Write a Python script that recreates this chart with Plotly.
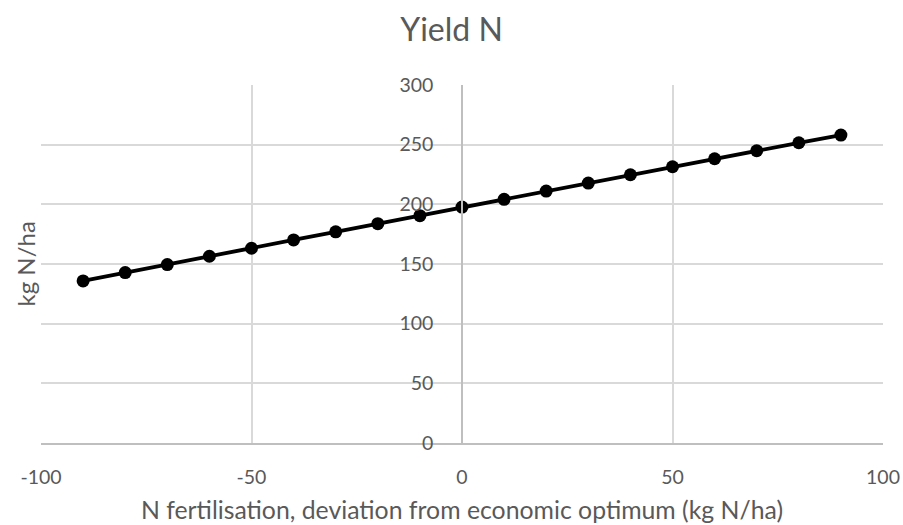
import plotly.graph_objects as go

# N fertilisation deviation from economic optimum (kg N/ha)
n_deviation = [-90, -80, -70, -60, -50, -40, -30, -20, -10, 0,
               10, 20, 30, 40, 50, 60, 70, 80, 90]
# Yield N (kg N/ha)
yield_n = [135.8, 142.8, 149.5, 156.5, 163.2, 170.2, 177.0, 183.8, 190.5, 197.7,
           204.2, 211.1, 217.8, 224.8, 231.5, 238.2, 244.9, 251.6, 258.0]

x_ticks = [-100, -50, 0, 50, 100]
x_tick_text = ["-100", "-50", "0", "50", "100"]
y_ticks = [0, 50, 100, 150, 200, 250, 300]

FONT = "Lato"
TEXT = "#595959"
GRID = "#d9d9d9"
AXIS = "#bfbfbf"

fig = go.Figure(
    go.Scatter(
        x=n_deviation,
        y=yield_n,
        mode="lines+markers",
        line=dict(color="black", width=3.8),
        marker=dict(color="black", size=13),
        showlegend=False,
        cliponaxis=False,
    )
)

fig.update_layout(
    width=903,
    height=525,
    margin=dict(l=41, r=20, t=85, b=82, autoexpand=False),
    paper_bgcolor="white",
    plot_bgcolor="white",
    font=dict(family=FONT, color=TEXT, size=20),
    title=dict(
        text="Yield N",
        x=0.5,
        xanchor="center",
        xref="container",
        y=1 - 30 / 525,
        yref="container",
        yanchor="middle",
        font=dict(family=FONT, size=32, color=TEXT),
    ),
)

fig.update_xaxes(
    range=[-100, 100],
    tickvals=x_ticks,
    ticktext=x_tick_text,
    showgrid=True,
    gridcolor=GRID,
    gridwidth=1.5,
    zeroline=False,
    showline=True,
    linecolor=AXIS,
    linewidth=1.5,
    ticks="",
    automargin=False,
    ticklabelstandoff=16,
    tickfont=dict(size=19.5, color=TEXT),
    title=dict(
        text="N fertilisation, deviation from economic optimum (kg N/ha)",
        font=dict(size=24.8, color=TEXT),
        standoff=14,
    ),
)

fig.update_yaxes(
    range=[0, 300],
    tickvals=y_ticks,
    showgrid=True,
    gridcolor=GRID,
    gridwidth=1.5,
    zeroline=False,
    anchor="free",
    position=0.5,
    side="left",
    showline=True,
    linecolor=AXIS,
    linewidth=1.5,
    ticks="",
    automargin=False,
    ticklabelstandoff=24,
    tickfont=dict(size=19.5, color=TEXT),
)

# Axis title for the y axis sits at the far left of the chart
fig.add_annotation(
    text="kg N/ha",
    xref="paper",
    yref="paper",
    x=-41 / 842,
    y=0.5,
    xanchor="left",
    yanchor="middle",
    xshift=8,
    textangle=-90,
    showarrow=False,
    font=dict(family=FONT, size=24, color=TEXT),
)

fig.write_html("out.html")
